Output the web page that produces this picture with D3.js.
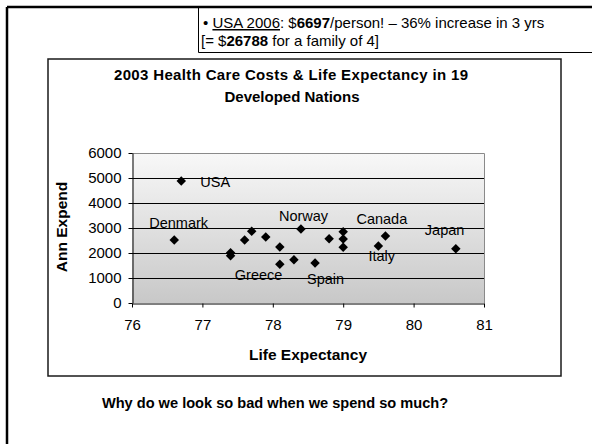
<!DOCTYPE html>
<html>
<head>
<meta charset="utf-8">
<script src="https://cdn.jsdelivr.net/npm/d3@7/dist/d3.min.js"></script>
<style>
  html, body { margin: 0; padding: 0; background: #fff; }
  svg { display: block; font-family: "Liberation Sans", Arial, sans-serif; }
</style>
</head>
<body>
<svg id="slide" width="592" height="444"></svg>
<script>
// 2003 health-care spending vs. life expectancy, 19 developed nations
const countries = ["USA", "Denmark", "", "", "", "", "", "", "Greece", "", "Norway", "Spain",
                   "", "", "", "", "Italy", "Canada", "Japan"];
const lifeExpectancy = [76.7, 76.6, 77.4, 77.4, 77.6, 77.7, 77.9, 78.1, 78.1, 78.3, 78.4, 78.6,
                        78.8, 79.0, 79.0, 79.0, 79.5, 79.6, 80.6];
const annExpend = [4880, 2520, 2010, 1890, 2520, 2870, 2640, 2240, 1550, 1730, 2960, 1600,
                   2570, 2850, 2560, 2230, 2280, 2680, 2170];
const xTicks = [76, 77, 78, 79, 80, 81];
const yTicks = [0, 1000, 2000, 3000, 4000, 5000, 6000];

// label placement relative to its marker (px)
const labelOffset = {
  "USA": [19, 6], "Denmark": [-25, -12], "Norway": [-22, -8], "Greece": [-45, 16],
  "Spain": [-8, 21], "Canada": [-29, -12], "Italy": [-10, 15], "Japan": [-31, -14]
};

const svg = d3.select("#slide");

// slide frame
svg.append("line").attr("x1", 7).attr("y1", 7).attr("x2", 592).attr("y2", 7)
  .attr("stroke", "#000").attr("stroke-width", 2.5);
svg.append("line").attr("x1", 7).attr("y1", 7).attr("x2", 7).attr("y2", 444)
  .attr("stroke", "#000").attr("stroke-width", 2.5);

// callout box
svg.append("path").attr("d", "M198.5,7 V52.5 H592")
  .attr("fill", "none").attr("stroke", "#000").attr("stroke-width", 1);
const note1 = svg.append("text").attr("x", 203).attr("y", 28).attr("font-size", 15).attr("fill", "#000");
note1.append("tspan").text("\u2022 ");
note1.append("tspan").attr("text-decoration", "underline").text("USA 2006");
note1.append("tspan").text(": $");
note1.append("tspan").attr("font-weight", "bold").text("6697");
note1.append("tspan").text("/person! \u2013 36% increase in 3 yrs");
const note2 = svg.append("text").attr("x", 201).attr("y", 46).attr("font-size", 15).attr("fill", "#000");
note2.append("tspan").text("[= $");
note2.append("tspan").attr("font-weight", "bold").text("26788");
note2.append("tspan").text(" for a family of 4]");

// chart box
svg.append("rect").attr("x", 48).attr("y", 59).attr("width", 513).attr("height", 317)
  .attr("fill", "#fff").attr("stroke", "#1a1a1a").attr("stroke-width", 1.5);

svg.append("text").attr("x", 291).attr("y", 80).attr("text-anchor", "middle")
  .attr("font-size", 15).attr("font-weight", "bold")
  .attr("textLength", 354).attr("lengthAdjust", "spacing")
  .text("2003 Health Care Costs & Life Expectancy in 19");
svg.append("text").attr("x", 292).attr("y", 102).attr("text-anchor", "middle")
  .attr("font-size", 15).attr("font-weight", "bold")
  .text("Developed Nations");

// plot area
const x = d3.scaleLinear().domain([76, 81]).range([132, 484]);
const y = d3.scaleLinear().domain([0, 6000]).range([303, 153]);

const defs = svg.append("defs");
const grad = defs.append("linearGradient").attr("id", "plotBg")
  .attr("x1", 0).attr("y1", 0).attr("x2", 0).attr("y2", 1);
grad.append("stop").attr("offset", "0%").attr("stop-color", "#f8f8f8");
grad.append("stop").attr("offset", "100%").attr("stop-color", "#c8c8c8");

svg.append("rect").attr("x", x(76)).attr("y", y(6000))
  .attr("width", x(81) - x(76)).attr("height", y(0) - y(6000))
  .attr("fill", "url(#plotBg)");

// gridlines
svg.append("g").selectAll("line").data(yTicks.filter(d => d > 0 && d < 6000)).join("line")
  .attr("x1", x(76)).attr("x2", x(81))
  .attr("y1", d => y(d) + 0.5).attr("y2", d => y(d) + 0.5)
  .attr("stroke", "#000").attr("stroke-width", 1);

// plot border (top and right)
svg.append("path")
  .attr("d", `M${x(76)},${y(6000) + 0.5} H${x(81) + 0.5} V${y(0)}`)
  .attr("fill", "none").attr("stroke", "#8a8a8a").attr("stroke-width", 1);

// axes
const xAxis = d3.axisBottom(x).tickValues(xTicks).tickFormat(d3.format("d"))
  .tickSizeInner(4).tickSizeOuter(0).tickPadding(12);
const gx = svg.append("g").attr("transform", `translate(0,${y(0) + 0.5})`).call(xAxis);
const yAxis = d3.axisLeft(y).tickValues(yTicks).tickFormat(d3.format("d"))
  .tickSizeInner(4).tickSizeOuter(0).tickPadding(7);
const gy = svg.append("g").attr("transform", `translate(${x(76) + 0.5},0)`).call(yAxis);
[gx, gy].forEach(g => {
  g.select(".domain").attr("stroke", "#000");
  g.selectAll(".tick line").attr("stroke", "#000");
  g.selectAll(".tick text").attr("font-size", 15).attr("fill", "#000")
    .attr("font-family", "\"Liberation Sans\", Arial, sans-serif");
});

// axis titles
svg.append("text").attr("x", 308).attr("y", 360).attr("text-anchor", "middle")
  .attr("font-size", 15.5).attr("font-weight", "bold").text("Life Expectancy");
svg.append("text").attr("transform", "translate(67,227) rotate(-90)").attr("text-anchor", "middle")
  .attr("font-size", 15.5).attr("font-weight", "bold").text("Ann Expend");

// markers
const pts = countries.map((c, i) => ({ name: c, le: lifeExpectancy[i], ex: annExpend[i] }));
svg.append("g").selectAll("path").data(pts).join("path")
  .attr("d", d3.symbol(d3.symbolSquare, 45))
  .attr("transform", d => `translate(${x(d.le)},${y(d.ex)}) rotate(45)`)
  .attr("fill", "#000");

// data labels
svg.append("g").selectAll("text").data(pts.filter(d => d.name)).join("text")
  .attr("x", d => x(d.le) + labelOffset[d.name][0])
  .attr("y", d => y(d.ex) + labelOffset[d.name][1])
  .attr("font-size", 14.5).attr("fill", "#000")
  .text(d => d.name);

// closing question
svg.append("text").attr("x", 275).attr("y", 408).attr("text-anchor", "middle")
  .attr("font-size", 14.6).attr("font-weight", "bold")
  .text("Why do we look so bad when we spend so much?");
</script>
</body>
</html>
